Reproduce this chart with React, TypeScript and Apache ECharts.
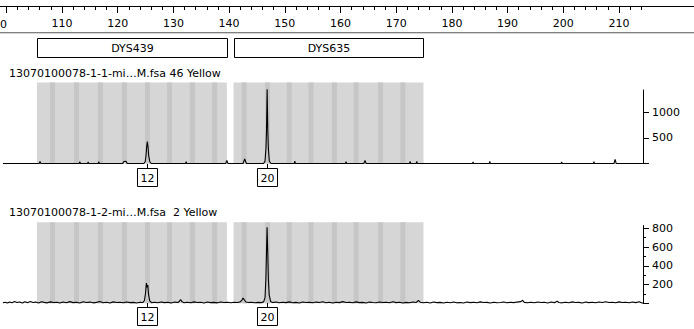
import React, { useEffect, useRef } from "react";
import * as echarts from "echarts";

// ---- data ----
const rulerMajorTicks = [100, 110, 120, 130, 140, 150, 160, 170, 180, 190, 200, 210];
const rulerLabels = [110, 120, 130, 140, 150, 160, 170, 180, 190, 200, 210];
const rulerMinorTicks = [
  100, 102, 104, 106, 108, 110, 112, 114, 116, 118, 120, 122, 124, 126, 128, 130, 132, 134, 136, 138,
  140, 142, 144, 146, 148, 150, 152, 154, 156, 158, 160, 162, 164, 166, 168, 170, 172, 174, 176, 178,
  180, 182, 184, 186, 188, 190, 192, 194, 196, 198, 200, 202, 204, 206, 208, 210, 212, 214,
];

const markerNames = ["DYS439", "DYS635"];
const markerStarts = [105.5, 140.8];
const markerEnds = [139.6, 174.9];

const binsDYS439 = [108.3, 112.6, 116.9, 121.2, 125.35, 129.3, 133.4, 137.4];
const binsDYS635 = [142.7, 146.9, 150.8, 154.7, 158.9, 162.8, 167.2, 171.2];

const panelTitles = [
  "13070100078-1-1-mi\u2026M.fsa 46 Yellow",
  "13070100078-1-2-mi\u2026M.fsa  2 Yellow",
];

const alleleSizes = [125.35, 146.85];
const alleleLabels = ["12", "20"];

const panel1Ticks = [0, 500, 1000];
const panel1Labels = [500, 1000];
const panel2Ticks = [0, 200, 400, 600, 800];
const panel2MinorTicks = [100, 300, 500, 700];
const panel2Labels = [200, 400, 600, 800];

const trace1: number[][] = [
  [99.4, 0], [105.9, 0], [106.05, 40], [106.2, 0],
  [113.1, 0], [113.2, 35], [113.3, 0],
  [114.6, 0], [114.7, 30], [114.8, 0],
  [116.5, 0], [116.6, 35], [116.7, 0],
  [120.9, 0], [121.1, 40], [121.5, 45], [121.7, 0],
  [124.7, 0], [124.95, 40], [125.1, 170], [125.2, 330], [125.32, 430], [125.45, 320], [125.55, 160], [125.75, 40], [126.0, 0],
  [132.2, 0], [132.3, 35], [132.4, 0],
  [139.4, 0], [139.6, 60], [139.8, 0],
  [142.5, 0], [142.8, 90], [143.1, 0],
  [146.2, 0], [146.45, 50], [146.62, 300], [146.72, 650], [146.83, 1450], [146.95, 640], [147.05, 290], [147.22, 50], [147.5, 0],
  [151.7, 0], [151.8, 45], [151.9, 0],
  [160.9, 0], [161.0, 35], [161.1, 0],
  [164.2, 0], [164.4, 60], [164.6, 0],
  [172.4, 0], [172.5, 40], [172.6, 0],
  [173.6, 0], [173.7, 40], [173.8, 0],
  [183.7, 0], [183.8, 30], [183.9, 0],
  [186.7, 0], [186.8, 40], [186.9, 0],
  [199.6, 0], [199.7, 30], [199.8, 0],
  [205.4, 0], [205.5, 35], [205.6, 0],
  [209.1, 0], [209.3, 80], [209.5, 0],
  [214.3, 0],
];

const trace2: number[][] = [
  [99.4, 5], [99.8, 12], [100.2, 4], [100.6, 15], [101.0, 6], [101.5, 18], [101.9, 8], [102.4, 14], [102.9, 3],
  [103.3, 16], [103.8, 7], [104.3, 20], [104.8, 9], [105.3, 13], [105.8, 4], [106.3, 17], [106.8, 10], [107.4, 5],
  [107.9, 15], [108.5, 8], [109.1, 12], [109.6, 3], [110.2, 14], [110.8, 6], [111.4, 18], [112.0, 7], [112.6, 11],
  [113.2, 4], [113.8, 16], [114.4, 9], [115.0, 13], [115.6, 5], [116.2, 10], [116.8, 19], [117.4, 6], [118.0, 12],
  [118.6, 4], [119.2, 15], [119.8, 8], [120.4, 11], [121.0, 5], [121.6, 14], [122.2, 7], [122.8, 10], [123.4, 4],
  [124.0, 12], [124.5, 8],
  [124.8, 30], [125.0, 110], [125.15, 215], [125.28, 170], [125.4, 195], [125.55, 90], [125.75, 25], [126.1, 6],
  [126.6, 12], [127.2, 5], [127.8, 14], [128.4, 7], [129.0, 11], [129.6, 4], [130.2, 13], [130.8, 8], [131.1, 22],
  [131.3, 40], [131.5, 18], [131.9, 6], [132.5, 12], [133.1, 5], [133.7, 15], [134.3, 8], [134.9, 11], [135.5, 4],
  [136.1, 13], [136.7, 7], [137.3, 10], [137.9, 5], [138.5, 14], [139.1, 8], [139.7, 12], [140.3, 6], [140.9, 11],
  [141.5, 9], [142.0, 15], [142.3, 35], [142.5, 55], [142.7, 40], [143.0, 14], [143.5, 8], [144.0, 12], [144.6, 6],
  [145.2, 10], [145.8, 7], [146.2, 15],
  [146.45, 60], [146.6, 250], [146.7, 500], [146.82, 810], [146.95, 520], [147.05, 260], [147.2, 90], [147.45, 20],
  [147.8, 8], [148.4, 13], [149.0, 5], [149.6, 12], [150.2, 7], [150.8, 15], [151.4, 6], [152.0, 10], [152.6, 4],
  [153.2, 14], [153.8, 8], [154.4, 11], [155.0, 5], [155.6, 13], [156.2, 9], [156.8, 16], [157.4, 6], [158.0, 11],
  [158.6, 4], [159.2, 12], [159.8, 7], [160.4, 18], [161.0, 8], [161.6, 12], [162.2, 5], [162.8, 15], [163.4, 7],
  [164.0, 10], [164.6, 4], [165.2, 13], [165.8, 9], [166.4, 6], [167.0, 14], [167.6, 8], [168.2, 11], [168.8, 5],
  [169.4, 16], [170.0, 7], [170.6, 12], [171.2, 4], [171.8, 10], [172.4, 6], [173.0, 14], [173.6, 9], [174.0, 30],
  [174.3, 12], [174.9, 5], [175.5, 11], [176.1, 4], [176.7, 13], [177.3, 7], [177.9, 10], [178.5, 3], [179.1, 12],
  [179.7, 6], [180.3, 14], [180.9, 5], [181.5, 9], [182.1, 4], [182.7, 13], [183.3, 7], [183.9, 11], [184.5, 5],
  [185.1, 15], [185.7, 8], [186.3, 10], [186.9, 4], [187.5, 12], [188.1, 6], [188.7, 9], [189.3, 14], [189.9, 5],
  [190.5, 11], [191.1, 7], [191.7, 13], [192.4, 18], [192.7, 32], [193.0, 10], [193.6, 6], [194.2, 12], [194.8, 5],
  [195.4, 14], [196.0, 8], [196.6, 11], [197.2, 4], [197.8, 13], [198.4, 7], [198.9, 22], [199.2, 9], [199.8, 5],
  [200.4, 12], [201.0, 6], [201.6, 15], [202.2, 8], [202.8, 10], [203.4, 4], [204.0, 13], [204.6, 7], [205.2, 11],
  [205.8, 5], [206.4, 14], [207.0, 8], [207.6, 17], [208.2, 9], [208.8, 12], [209.4, 6], [210.0, 15], [210.6, 8],
  [211.2, 11], [211.8, 5], [212.4, 13], [213.0, 7], [213.6, 16], [214.3, 0],
];

// ---- layout / style constants ----
const X_MIN = 98.869;
const X_MAX = 214.31;
const FONT = "DejaVu Sans";
const BIN_HEIGHT = 81;

const hiddenX = (gridIndex: number) => ({
  type: "value",
  gridIndex,
  min: X_MIN,
  max: X_MAX,
  show: false,
});

const regionSeries = (xi: number, yi: number) => ({
  type: "custom",
  xAxisIndex: xi,
  yAxisIndex: yi,
  z: 1,
  silent: true,
  clip: false,
  data: markerStarts.map((s, i) => [s, markerEnds[i]]),
  renderItem: (_p: any, api: any) => {
    const a = api.coord([api.value(0), 0]);
    const b = api.coord([api.value(1), 0]);
    return {
      type: "rect",
      shape: { x: a[0], y: a[1] - BIN_HEIGHT, width: b[0] - a[0], height: BIN_HEIGHT },
      style: { fill: "#d6d6d6" },
    };
  },
});

const stripeSeries = (xi: number, yi: number) => ({
  type: "custom",
  xAxisIndex: xi,
  yAxisIndex: yi,
  z: 2,
  silent: true,
  clip: false,
  data: [...binsDYS439, ...binsDYS635].map((c) => [c]),
  renderItem: (_p: any, api: any) => {
    const a = api.coord([api.value(0), 0]);
    return {
      type: "rect",
      shape: { x: a[0] - 2.5, y: a[1] - BIN_HEIGHT, width: 5, height: BIN_HEIGHT },
      style: { fill: "#c6c6c6" },
    };
  },
});

const alleleSeries = (xi: number, yi: number) => ({
  type: "custom",
  xAxisIndex: xi,
  yAxisIndex: yi,
  z: 5,
  silent: true,
  clip: false,
  data: alleleSizes.map((s) => [s]),
  renderItem: (p: any, api: any) => {
    const a = api.coord([api.value(0), 0]);
    const x = Math.round(a[0]) + 0.5;
    const y = Math.round(a[1]);
    return {
      type: "group",
      children: [
        { type: "line", shape: { x1: x, y1: y, x2: x, y2: y + 5 }, style: { stroke: "#000", lineWidth: 1 } },
        {
          type: "rect",
          shape: { x: x - 10, y: y + 4.5, width: 20, height: 18 },
          style: { fill: "#fff", stroke: "#000", lineWidth: 1 },
        },
        {
          type: "text",
          x: x,
          y: y + 14,
          style: {
            text: alleleLabels[p.dataIndex],
            font: `11px "${FONT}"`,
            fill: "#000",
            align: "center",
            verticalAlign: "middle",
          },
        },
      ],
    };
  },
});

const traceSeries = (xi: number, yi: number, data: number[][]) => ({
  type: "line",
  xAxisIndex: xi,
  yAxisIndex: yi,
  z: 3,
  silent: true,
  clip: false,
  showSymbol: false,
  symbol: "none",
  lineStyle: { color: "#000", width: 1.1 },
  data,
});

export default function App() {
  const ref = useRef<HTMLDivElement>(null);

  useEffect(() => {
    if (!ref.current) return;
    const chart = echarts.init(ref.current, undefined, { renderer: "svg" });
    const axisLabelStyle = {
      color: "#000",
      fontFamily: FONT,
      fontSize: 11,
      formatter: (v: number) => String(v),
    };

    chart.setOption({
      animation: false,
      backgroundColor: "#fff",
      textStyle: { fontFamily: FONT },
      grid: [
        { left: 0, right: 51, top: 0, height: 6 },
        { left: 0, right: 51, top: 38, height: 19 },
        { left: 0, right: 51, top: 90, height: 73.5 },
        { left: 0, right: 51, top: 225.5, height: 77.8 },
      ],
      xAxis: [
        {
          type: "value",
          gridIndex: 0,
          min: X_MIN,
          max: X_MAX,
          position: "bottom",
          axisLine: { show: true, lineStyle: { color: "#000", width: 1 } },
          axisTick: { show: true, length: 7, customValues: rulerMajorTicks, lineStyle: { color: "#000" } },
          axisLabel: { show: true, customValues: rulerLabels, margin: 12, ...axisLabelStyle },
          splitLine: { show: false },
        },
        {
          type: "value",
          gridIndex: 0,
          min: X_MIN,
          max: X_MAX,
          position: "bottom",
          axisLine: { show: false },
          axisTick: { show: true, length: 4, customValues: rulerMinorTicks, lineStyle: { color: "#000" } },
          axisLabel: { show: false },
          splitLine: { show: false },
        },
        hiddenX(1),
        hiddenX(2),
        hiddenX(3),
      ],
      yAxis: [
        { type: "value", gridIndex: 0, show: false },
        { type: "value", gridIndex: 1, show: false, min: 0, max: 1 },
        {
          type: "value",
          gridIndex: 2,
          position: "right",
          min: 0,
          max: 1435,
          axisLine: { show: true, lineStyle: { color: "#000", width: 1 } },
          axisTick: { show: true, length: 6, customValues: panel1Ticks, lineStyle: { color: "#000" } },
          axisLabel: { show: true, customValues: panel1Labels, margin: 9, ...axisLabelStyle },
          splitLine: { show: false },
        },
        {
          type: "value",
          gridIndex: 3,
          position: "right",
          min: 0,
          max: 830,
          axisLine: { show: true, lineStyle: { color: "#000", width: 1 } },
          axisTick: { show: true, length: 6, customValues: panel2Ticks, lineStyle: { color: "#000" } },
          axisLabel: { show: true, customValues: panel2Labels, margin: 9, ...axisLabelStyle },
          splitLine: { show: false },
        },
        {
          type: "value",
          gridIndex: 3,
          position: "right",
          min: 0,
          max: 830,
          axisLine: { show: false },
          axisTick: { show: true, length: 3, customValues: panel2MinorTicks, lineStyle: { color: "#000" } },
          axisLabel: { show: false },
          splitLine: { show: false },
        },
      ],
      graphic: [
        { type: "line", shape: { x1: 0, y1: 6.5, x2: 694, y2: 6.5 }, style: { stroke: "#000", lineWidth: 1 } },
        { type: "line", shape: { x1: 0, y1: 32.5, x2: 694, y2: 32.5 }, style: { stroke: "#808080", lineWidth: 1 } },
        { type: "line", shape: { x1: 0, y1: 33.5, x2: 694, y2: 33.5 }, style: { stroke: "#d4d4d4", lineWidth: 1 } },
        {
          type: "text",
          x: 0,
          y: 24.5,
          style: { text: "0", font: `11px "${FONT}"`, fill: "#000", verticalAlign: "middle" },
        },
        {
          type: "text",
          x: 9,
          y: 73,
          style: { text: panelTitles[0], font: `11px "${FONT}"`, fill: "#000", verticalAlign: "middle" },
        },
        {
          type: "text",
          x: 9,
          y: 212,
          style: { text: panelTitles[1], font: `11px "${FONT}"`, fill: "#000", verticalAlign: "middle" },
        },
      ],
      series: [
        {
          type: "custom",
          xAxisIndex: 2,
          yAxisIndex: 1,
          silent: true,
          clip: false,
          data: markerStarts.map((s, i) => [s, markerEnds[i]]),
          renderItem: (p: any, api: any) => {
            const a = api.coord([api.value(0), 0]);
            const b = api.coord([api.value(1), 0]);
            const cs = p.coordSys;
            const x0 = Math.round(a[0]) + 0.5;
            const x1 = Math.round(b[0]) + 0.5;
            return {
              type: "group",
              children: [
                {
                  type: "rect",
                  shape: { x: x0, y: cs.y + 0.5, width: x1 - x0, height: cs.height },
                  style: { fill: "#fff", stroke: "#000", lineWidth: 1 },
                },
                {
                  type: "text",
                  x: (x0 + x1) / 2,
                  y: cs.y + cs.height / 2 + 0.5,
                  style: {
                    text: markerNames[p.dataIndex],
                    font: `11px "${FONT}"`,
                    fill: "#000",
                    align: "center",
                    verticalAlign: "middle",
                  },
                },
              ],
            };
          },
        },
        regionSeries(3, 2),
        stripeSeries(3, 2),
        traceSeries(3, 2, trace1),
        alleleSeries(3, 2),
        regionSeries(4, 3),
        stripeSeries(4, 3),
        traceSeries(4, 3, trace2),
        alleleSeries(4, 3),
      ],
    });
    return () => chart.dispose();
  }, []);

  return (
    <div
      ref={ref}
      style={{ position: "absolute", left: 0, top: 0, width: 694, height: 329, background: "#fff" }}
    />
  );
}
